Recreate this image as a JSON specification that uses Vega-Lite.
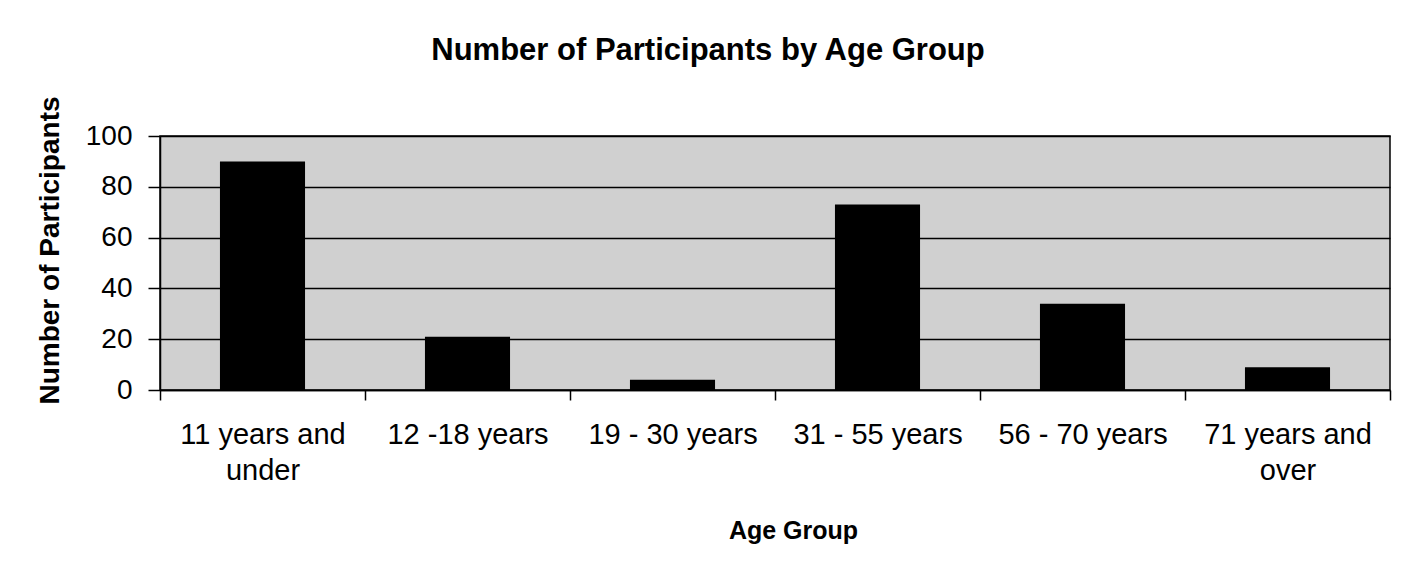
{
  "$schema": "https://vega.github.io/schema/vega-lite/v6.json",
  "autosize": {"type": "none"},
  "width": 1230,
  "height": 254,
  "padding": {"left": 160, "top": 136, "right": 26, "bottom": 179},
  "background": "white",
  "title": {
    "text": "Number of Participants by Age Group",
    "font": "Liberation Sans",
    "fontSize": 31,
    "fontWeight": "bold",
    "color": "black",
    "anchor": "middle",
    "dx": -67,
    "offset": 29
  },
  "data": {
    "values": [
      {"group": "11 years and under", "count": 90},
      {"group": "12 -18 years", "count": 21},
      {"group": "19 - 30 years", "count": 4},
      {"group": "31 - 55 years", "count": 73},
      {"group": "56 - 70 years", "count": 34},
      {"group": "71 years and over", "count": 9}
    ]
  },
  "mark": {"type": "bar", "color": "black", "width": {"band": 0.415}},
  "encoding": {
    "x": {
      "field": "group",
      "type": "nominal",
      "sort": null,
      "scale": {"paddingInner": 0, "paddingOuter": 0},
      "axis": {
        "title": "Age Group",
        "titleFont": "Liberation Sans",
        "titleFontSize": 25,
        "titleFontWeight": "bold",
        "titleColor": "black",
        "titlePadding": 33,
        "titleX": 633,
        "labelFont": "Liberation Sans",
        "labelFontSize": 29,
        "labelColor": "black",
        "labelAngle": 0,
        "labelPadding": 20,
        "labelLineHeight": 36,
        "labelOverlap": false,
        "labelExpr": "datum.value == '11 years and under' ? ['11 years and', 'under'] : datum.value == '71 years and over' ? ['71 years and', 'over'] : datum.value",
        "tickBand": "extent",
        "tickSize": 10,
        "tickColor": "black",
        "tickWidth": 1.5,
        "domainColor": "black",
        "domainWidth": 1.5
      }
    },
    "y": {
      "field": "count",
      "type": "quantitative",
      "scale": {"domain": [0, 100]},
      "axis": {
        "title": "Number of Participants",
        "titleFont": "Liberation Sans",
        "titleFontSize": 28,
        "titleFontWeight": "bold",
        "titleColor": "black",
        "titlePadding": 21,
        "titleY": 114,
        "labelFont": "Liberation Sans",
        "labelFontSize": 28,
        "labelColor": "black",
        "labelPadding": 16,
        "labelOverlap": false,
        "values": [0, 20, 40, 60, 80, 100],
        "tickSize": 12,
        "tickColor": "black",
        "tickWidth": 1.5,
        "domainColor": "black",
        "domainWidth": 1.5,
        "grid": true,
        "gridColor": "black",
        "gridWidth": 1.5
      }
    }
  },
  "config": {
    "view": {"fill": "#d0d0d0", "stroke": "black", "strokeWidth": 1.5}
  }
}
